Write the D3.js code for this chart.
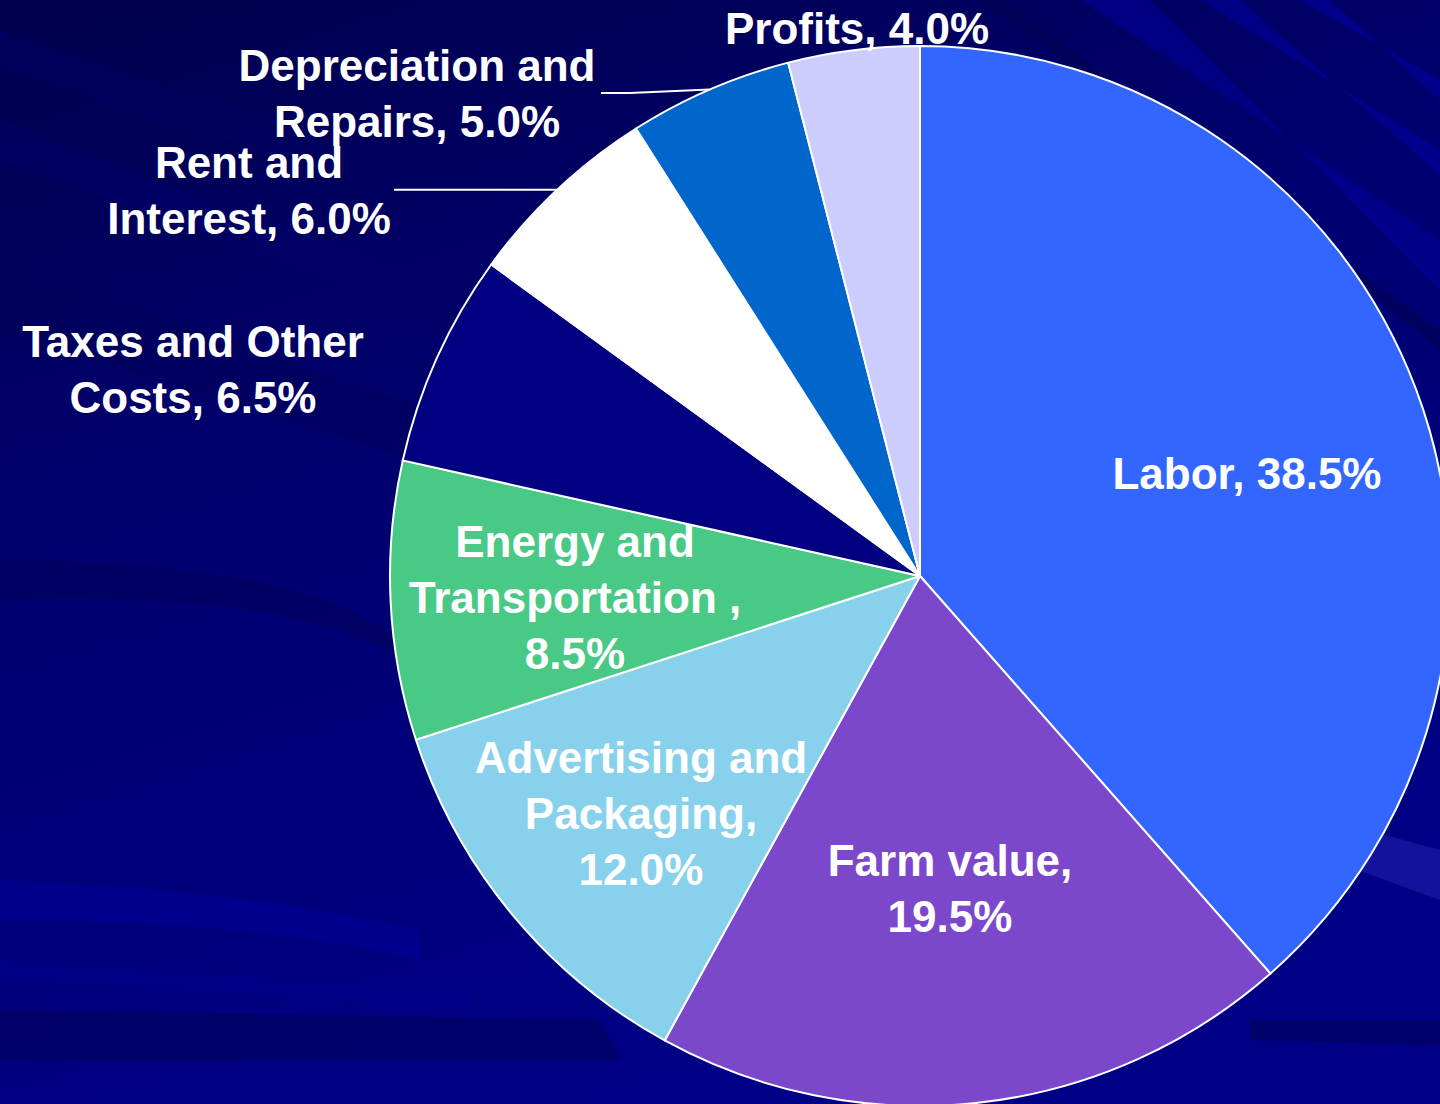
<!DOCTYPE html>
<html>
<head>
<meta charset="utf-8">
<script src="https://cdn.jsdelivr.net/npm/d3@7"></script>
<style>
  html, body { margin: 0; padding: 0; background: #000070; }
  svg { display: block; }
</style>
</head>
<body>
<script>
var w = 1440;
var h = 1104;

// slices, clockwise from 12 o'clock
var categories = ["Labor", "Farm value", "Advertising and Packaging", "Energy and Transportation",
  "Taxes and Other Costs", "Rent and Interest", "Depreciation and Repairs", "Profits"];
var values = [38.5, 19.5, 12.0, 8.5, 6.5, 6.0, 5.0, 4.0];
var colors = ["#3366ff", "#7b48cc", "#87d1ec", "#48c985", "#000080", "#ffffff", "#0066cc", "#ccccff"];
// label text as broken in the original
var labelLines = [
  ["Labor, 38.5%"],
  ["Farm value,", "19.5%"],
  ["Advertising and", "Packaging,", "12.0%"],
  ["Energy and", "Transportation ,", "8.5%"],
  ["Taxes and Other", "Costs, 6.5%"],
  ["Rent and", "Interest, 6.0%"],
  ["Depreciation and", "Repairs, 5.0%"],
  ["Profits, 4.0%"]
];

// layout: label anchor (centre x, first baseline y)
var labelPos = [[1247, 489], [950, 876], [641, 773], [575, 557], [193, 357], [249, 178], [417, 81], [857, 44]];
var cx = 920, cy = 576, radius = 530;
var lineH = 56;

var svg = d3.select("body")
  .append("svg")
  .attr("width", w)
  .attr("height", h);

// background
var defs = svg.append("defs");
var bg = defs.append("linearGradient")
  .attr("id", "bg")
  .attr("x1", "0").attr("y1", "0")
  .attr("x2", "0.4").attr("y2", "1");
bg.append("stop").attr("offset", "0").attr("stop-color", "#00004c");
bg.append("stop").attr("offset", "0.45").attr("stop-color", "#000070");
bg.append("stop").attr("offset", "1").attr("stop-color", "#000086");

svg.append("rect").attr("width", w).attr("height", h).attr("fill", "url(#bg)");

// faint streaks
var streaks = [
  { d: "M0,30 L420,170 L420,200 L0,70 Z", c: "#000060", o: 0.7 },
  { d: "M0,120 L560,330 L560,360 L0,160 Z", c: "#000068", o: 0.6 },
  { d: "M0,260 L600,470 L600,520 L0,330 Z", c: "#00005a", o: 0.5 },
  { d: "M0,560 Q300,560 400,640 L400,660 Q300,590 0,600 Z", c: "#00005a", o: 0.6 },
  { d: "M0,880 Q250,890 420,930 L420,960 Q250,920 0,920 Z", c: "#0000a0", o: 0.45 },
  { d: "M0,960 L470,990 L470,1010 L0,980 Z", c: "#000090", o: 0.4 },
  { d: "M0,1010 L600,1020 L620,1060 L0,1060 Z", c: "#000060", o: 0.7 },
  { d: "M1080,0 L1440,240 L1440,290 L1150,0 Z", c: "#00009a", o: 0.55 },
  { d: "M1200,0 L1440,150 L1440,175 L1240,0 Z", c: "#0000a8", o: 0.5 },
  { d: "M980,0 L1440,330 L1440,350 L1010,0 Z", c: "#000050", o: 0.6 },
  { d: "M1300,0 L1440,80 L1440,100 L1330,0 Z", c: "#0000b0", o: 0.5 },
  { d: "M1330,820 L1440,850 L1440,900 L1330,860 Z", c: "#2020b0", o: 0.55 },
  { d: "M1250,1020 L1440,1020 L1440,1045 L1250,1040 Z", c: "#000060", o: 0.7 }
];
svg.append("g").selectAll("path")
  .data(streaks)
  .enter()
  .append("path")
  .attr("d", function(d) { return d.d; })
  .attr("fill", function(d) { return d.c; })
  .attr("opacity", function(d) { return d.o; });

// pie
var pie = d3.pie().sort(null).value(function(d) { return d; });
var arcs = pie(values);
var arc = d3.arc().innerRadius(0).outerRadius(radius);
var rim = d3.arc().innerRadius(radius).outerRadius(radius);

var g = svg.append("g").attr("transform", "translate(" + cx + "," + cy + ")");

g.selectAll("path")
  .data(arcs)
  .enter()
  .append("path")
  .attr("d", arc)
  .attr("fill", function(d, i) { return colors[i]; })
  .attr("stroke", "#ffffff")
  .attr("stroke-width", 2)
  .attr("stroke-linejoin", "round");

// leader lines for Rent and Depreciation
var rentPt = rim.centroid(arcs[5]);
var depPt = rim.centroid(arcs[6]);
var leaders = [
  [[394 - cx, rentPt[1]], rentPt],
  [[601 - cx, 93 - cy], [630 - cx, 93 - cy], depPt]
];
g.selectAll("polyline")
  .data(leaders)
  .enter()
  .append("polyline")
  .attr("points", function(d) { return d.map(function(p) { return p.join(","); }).join(" "); })
  .attr("fill", "none")
  .attr("stroke", "#ffffff")
  .attr("stroke-width", 2);

// labels
var labels = svg.append("g")
  .selectAll("text")
  .data(labelLines)
  .enter()
  .append("text")
  .attr("x", function(d, i) { return labelPos[i][0]; })
  .attr("y", function(d, i) { return labelPos[i][1]; })
  .attr("font-family", "'Liberation Sans', Arial, sans-serif")
  .attr("font-weight", "bold")
  .attr("font-size", "44px")
  .attr("fill", "white")
  .attr("text-anchor", "middle");

labels.selectAll("tspan")
  .data(function(d, i) { return d.map(function(t) { return { t: t, x: labelPos[i][0] }; }); })
  .enter()
  .append("tspan")
  .attr("x", function(d) { return d.x; })
  .attr("dy", function(d, j) { return j === 0 ? 0 : lineH; })
  .text(function(d) { return d.t; });
</script>
</body>
</html>
